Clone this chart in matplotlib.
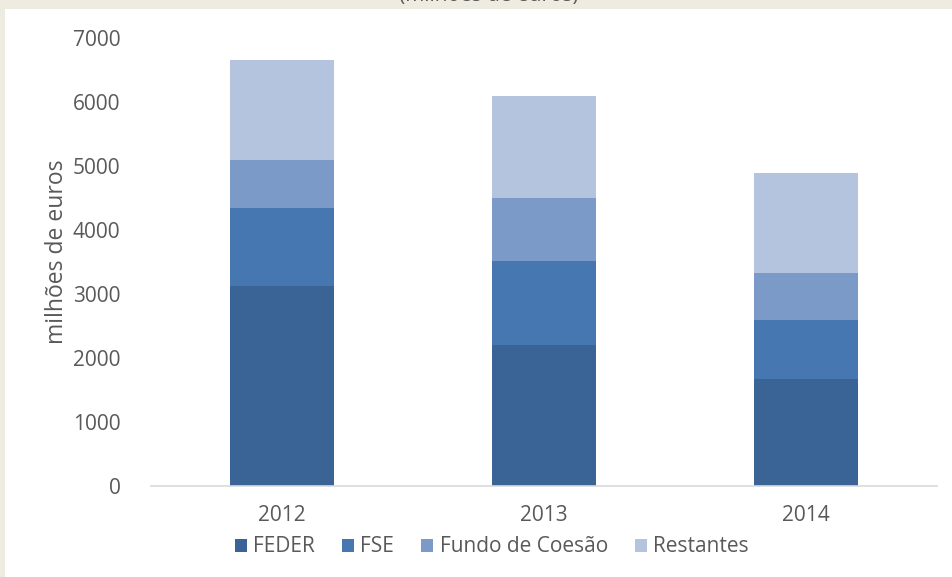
import numpy as np
import matplotlib.pyplot as plt
from matplotlib.patches import Rectangle

plt.rcParams['font.family'] = ['Open Sans', 'DejaVu Sans']

# data (milhões de euros)
anos = ['2012', '2013', '2014']
feder = [3125, 2203, 1672]
fse = [1219, 1313, 922]
fundo_coesao = [750, 984, 734]
restantes = [1562, 1594, 1563]

series = ['FEDER', 'FSE', 'Fundo de Coesão', 'Restantes']
cores = ['#3A6496', '#4677B0', '#7C9AC7', '#B4C3DE']

W, H = 953, 577
fig = plt.figure(figsize=(W / 100, H / 100), dpi=100)
fig.patch.set_facecolor('#EEEBE0')
# white chart area inside the beige frame
fig.patches.append(Rectangle((5 / W, 0), 1, (H - 9) / H, transform=fig.transFigure,
                             facecolor='white', edgecolor='none', zorder=-1))

ax = fig.add_axes([151 / W, (H - 486) / H, 786 / W, 448 / H])
ax.set_zorder(2)
ax.set_facecolor('none')

x = np.arange(len(anos))
base = np.zeros(len(anos))
for nome, vals, c in zip(series, [feder, fse, fundo_coesao, restantes], cores):
    ax.bar(x, vals, width=0.4, bottom=base, color=c, label=nome, zorder=2)
    base += np.array(vals)

ax.set_xlim(-0.5, 2.5)
ax.set_ylim(0, 7000)
ax.set_yticks(range(0, 7001, 1000))
ax.set_xticks(x)
ax.set_xticklabels(anos)

for s in ['top', 'right', 'left']:
    ax.spines[s].set_visible(False)
ax.spines['bottom'].set_color('#D9D9D9')
ax.spines['bottom'].set_linewidth(1.2)
ax.tick_params(axis='both', length=0, labelsize=15, colors='#595959')
ax.tick_params(axis='y', pad=22)
ax.tick_params(axis='x', pad=14)

fig.text(57 / W, 1 - 252 / H, 'milhões de euros', rotation=90, ha='center', va='center',
         fontsize=16.5, color='#595959', zorder=3)

# title mostly cut off at the top of the picture
fig.text(489 / W, 1 - 1 / H, '(milhões de euros)', ha='center', va='baseline',
         fontsize=15, color='#595959', zorder=3)

leg = fig.legend(loc='center', bbox_to_anchor=(492 / W, 1 - 547 / H), ncol=4,
                 frameon=False, fontsize=15, handlelength=0.57, handleheight=0.57,
                 handletextpad=0.3, columnspacing=1.3, borderaxespad=0)
leg.set_zorder(3)
for t in leg.get_texts():
    t.set_color('#595959')

fig.savefig('out.png', dpi=100, facecolor=fig.get_facecolor())
